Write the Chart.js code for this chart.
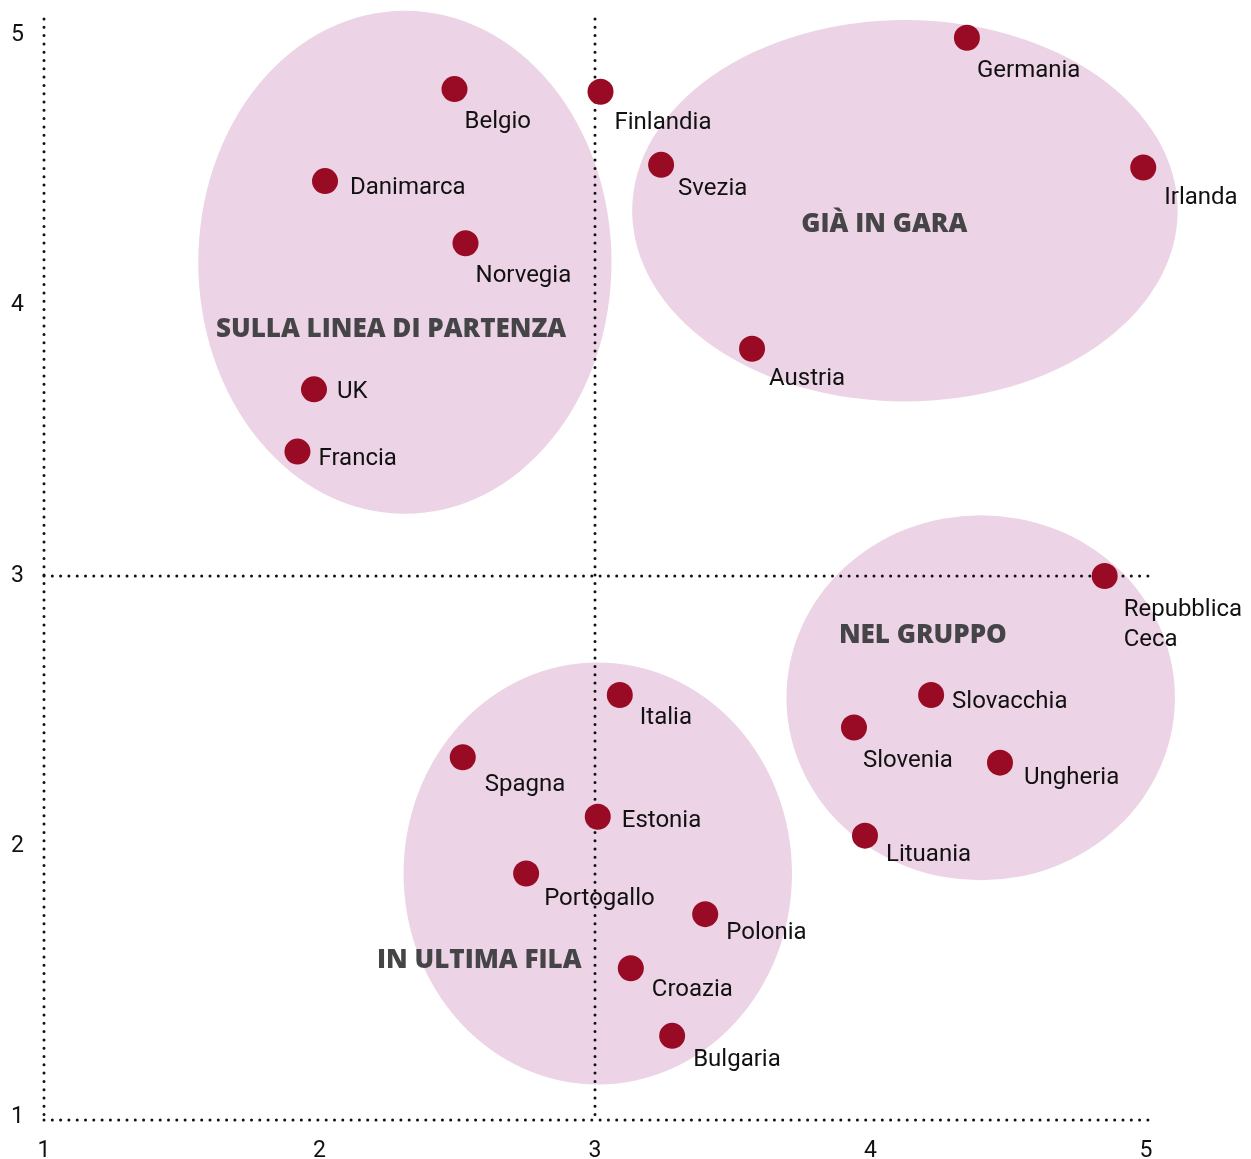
<!DOCTYPE html>
<html>
<head>
<meta charset="utf-8">
<script src="https://cdn.jsdelivr.net/npm/chart.js@4"></script>
<style>
  body { margin: 0; background: #fff; }
  canvas { display: block; }
</style>
</head>
<body>
<canvas id="chart" width="1251" height="1159"></canvas>
<script>
// Countries and their scores (x / y)
const countries = [
  "Belgio", "Finlandia", "Germania", "Danimarca", "Svezia", "Irlanda",
  "Norvegia", "Austria", "UK", "Francia", "Repubblica\nCeca", "Slovacchia",
  "Italia", "Slovenia", "Spagna", "Ungheria", "Estonia", "Lituania",
  "Portogallo", "Polonia", "Croazia", "Bulgaria"
];
const xValues = [
  2.49, 3.02, 4.35, 2.02, 3.24, 4.99,
  2.53, 3.57, 1.98, 1.92, 4.85, 4.22,
  3.09, 3.94, 2.52, 4.47, 3.01, 3.98,
  2.75, 3.40, 3.13, 3.28
];
const yValues = [
  4.80, 4.79, 4.99, 4.46, 4.52, 4.51,
  4.23, 3.84, 3.69, 3.46, 3.00, 2.56,
  2.56, 2.44, 2.33, 2.31, 2.11, 2.04,
  1.90, 1.75, 1.55, 1.30
];

// Groups (ellipses)
const groupNames = ["SULLA LINEA DI PARTENZA", "GIÀ IN GARA", "NEL GRUPPO", "IN ULTIMA FILA"];
const groupCenterX = [2.31, 4.125, 4.40, 3.01];
const groupCenterY = [4.16, 4.35, 2.55, 1.90];
const groupRadiusX = [0.75, 0.99, 0.705, 0.705];
const groupRadiusY = [0.93, 0.705, 0.675, 0.78];
const groupLabelX = [2.26, 4.05, 4.19, 2.58];
const groupLabelY = [3.91, 4.30, 2.78, 1.58];

// Axis ticks
const tickValues = [1, 2, 3, 4, 5];

// label offsets in px from the dot centre (style only)
const labelOffsets = [
  [10, 33], [14, 31], [10, 33], [25, 7], [17, 24], [21, 30],
  [10, 33], [17, 30], [23, 3], [21, 7], [19, 34], [21, 7],
  [20, 23], [9, 34], [22, 28], [24, 15], [24, 4], [21, 19],
  [18, 25], [21, 19], [21, 22], [21, 24]
];

const points = countries.map((c, i) => ({ x: xValues[i], y: yValues[i] }));

const dotted = (ctx, x1, y1, x2, y2) => {
  ctx.save();
  ctx.strokeStyle = "#111";
  ctx.lineWidth = 3;
  ctx.lineCap = "round";
  ctx.setLineDash([0, 8.3]);
  ctx.beginPath();
  ctx.moveTo(x1, y1);
  ctx.lineTo(x2, y2);
  ctx.stroke();
  ctx.restore();
};

const backgroundPlugin = {
  id: "groups",
  beforeDatasetsDraw(chart) {
    const { ctx, scales: { x, y } } = chart;
    // ellipses
    ctx.save();
    ctx.fillStyle = "#ecd3e5";
    groupNames.forEach((_, i) => {
      const cx = x.getPixelForValue(groupCenterX[i]);
      const cy = y.getPixelForValue(groupCenterY[i]);
      const rx = x.getPixelForValue(groupCenterX[i] + groupRadiusX[i]) - cx;
      const ry = cy - y.getPixelForValue(groupCenterY[i] + groupRadiusY[i]);
      ctx.beginPath();
      ctx.ellipse(cx, cy, rx, ry, 0, 0, Math.PI * 2);
      ctx.fill();
    });
    ctx.restore();

    // dotted axes and reference lines
    const x1 = x.getPixelForValue(1), x3 = x.getPixelForValue(3);
    const y1 = y.getPixelForValue(1) + 3, y3 = y.getPixelForValue(3);
    const top = chart.chartArea.top - 16;
    const right = chart.chartArea.right + 5;
    dotted(ctx, x1, top, x1, y1);
    dotted(ctx, x3, top, x3, y1);
    dotted(ctx, x1, y1, right, y1);
    dotted(ctx, x1, y3, right, y3);

    // group titles
    ctx.save();
    ctx.fillStyle = "#454547";
    ctx.font = "800 26px 'Open Sans'";
    ctx.textAlign = "center";
    ctx.textBaseline = "middle";
    groupNames.forEach((name, i) => {
      ctx.fillText(name, x.getPixelForValue(groupLabelX[i]), y.getPixelForValue(groupLabelY[i]));
    });
    ctx.restore();
  },
  afterDatasetsDraw(chart) {
    const { ctx } = chart;
    const meta = chart.getDatasetMeta(0);
    ctx.save();
    ctx.fillStyle = "#111";
    ctx.font = "24px Roboto";
    ctx.textAlign = "left";
    ctx.textBaseline = "middle";
    meta.data.forEach((pt, i) => {
      const [dx, dy] = labelOffsets[i];
      countries[i].split("\n").forEach((line, j) => {
        ctx.fillText(line, pt.x + dx, pt.y + dy + j * 30);
      });
    });
    ctx.restore();
  }
};

new Chart(document.getElementById("chart"), {
  type: "scatter",
  data: {
    datasets: [{
      data: points,
      backgroundColor: "#990a24",
      borderWidth: 0,
      pointRadius: 13,
      pointHoverRadius: 13,
      clip: false
    }]
  },
  options: {
    responsive: false,
    animation: false,
    events: [],
    layout: { padding: { top: 35, right: 105, left: 0, bottom: 0 } },
    plugins: { legend: { display: false }, tooltip: { enabled: false } },
    scales: {
      x: {
        type: "linear",
        min: 1,
        max: 5,
        afterBuildTicks: (axis) => { axis.ticks = tickValues.map(v => ({ value: v })); },
        afterFit: (axis) => { axis.height = 42; },
        grid: { display: false, drawTicks: false },
        border: { display: false },
        ticks: { padding: 20, color: "#111", font: { family: "Roboto", size: 23 } }
      },
      y: {
        type: "linear",
        min: 1,
        max: 5,
        afterBuildTicks: (axis) => { axis.ticks = tickValues.map(v => ({ value: v })); },
        afterFit: (axis) => { axis.width = 44; },
        grid: { display: false, drawTicks: false },
        border: { display: false },
        ticks: { padding: 20, color: "#111", font: { family: "Roboto", size: 23 } }
      }
    }
  },
  plugins: [backgroundPlugin]
});
</script>
</body>
</html>
